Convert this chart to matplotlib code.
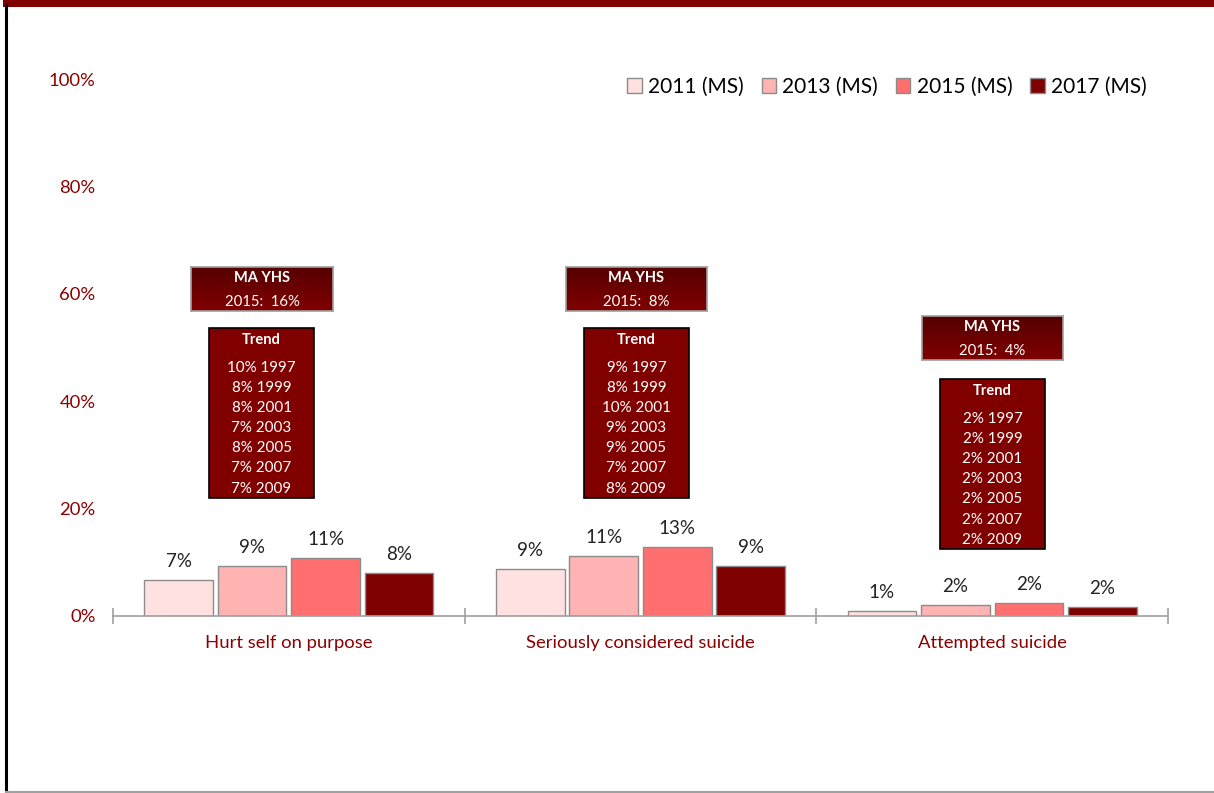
import matplotlib
matplotlib.use("Agg")
import matplotlib.pyplot as plt
import numpy as np
from matplotlib.patches import Rectangle
from matplotlib.lines import Line2D
from matplotlib.colors import LinearSegmentedColormap

plt.rcParams['font.family'] = ['Lato', 'DejaVu Sans']

categories = ["Hurt self on purpose", "Seriously considered suicide", "Attempted suicide"]
series = ["2011 (MS)", "2013 (MS)", "2015 (MS)", "2017 (MS)"]
v2011 = [6.7, 8.8, 0.9]
v2013 = [9.3, 11.2, 2.0]
v2015 = [10.8, 12.8, 2.4]
v2017 = [8.0, 9.3, 1.7]
labels2011 = ["7%", "9%", "1%"]
labels2013 = ["9%", "11%", "2%"]
labels2015 = ["11%", "13%", "2%"]
labels2017 = ["8%", "9%", "2%"]
ma_yhs = ["2015:  16%", "2015:  8%", "2015:  4%"]
trend_years = ["1997", "1999", "2001", "2003", "2005", "2007", "2009"]
trend_hurt = ["10%", "8%", "8%", "7%", "8%", "7%", "7%"]
trend_consider = ["9%", "8%", "10%", "9%", "9%", "7%", "8%"]
trend_attempt = ["2%", "2%", "2%", "2%", "2%", "2%", "2%"]
yticks = [0, 20, 40, 60, 80, 100]
ytick_labels = ["0%", "20%", "40%", "60%", "80%", "100%"]

colors = ["#FFE1E1", "#FFB3B3", "#FF6F6F", "#7F0000"]
dark = "#8B0000"

W, H = 1214, 793
fig = plt.figure(figsize=(W / 100, H / 100), dpi=100)

def fx(px):
    return px / W

def fy(py):
    return 1 - py / H

# frame decorations
fig.add_artist(Rectangle((fx(3), fy(7)), 1 - fx(3), 7 / H, color="#800000", lw=0, transform=fig.transFigure))
fig.add_artist(Line2D([fx(6), fx(6)], [fy(793), fy(5)], color="black", lw=2.2, transform=fig.transFigure))
fig.add_artist(Line2D([fx(6), 1], [fy(791.5), fy(791.5)], color="#A0A0A0", lw=1.5, transform=fig.transFigure))

ax = fig.add_axes([fx(113), fy(616), fx(1168) - fx(113), (616 - 79) / H])
x = np.arange(len(categories))
w = 0.195
step = 0.209
all_vals = [v2011, v2013, v2015, v2017]
all_labels = [labels2011, labels2013, labels2015, labels2017]
for i, (vals, labs, c, name) in enumerate(zip(all_vals, all_labels, colors, series)):
    bars = ax.bar(x + (i - 1.5) * step, vals, w, color=c, edgecolor="#8C8C8C", lw=1.0, label=name)
    for b, lab in zip(bars, labs):
        ax.text(b.get_x() + b.get_width() / 2, b.get_height() + 1.9, lab, ha="center", va="bottom",
                fontsize=13.5, color="#222222")

ax.set_xlim(-0.5, 2.5)
ax.set_ylim(0, 100)
ax.set_yticks(yticks)
ax.set_yticklabels(ytick_labels, color=dark, fontsize=13.3)
ax.tick_params(axis="y", length=0, pad=12.5)
ax.set_xticks(x)
ax.set_xticklabels(categories, color=dark, fontsize=13.3)
ax.tick_params(axis="x", length=0, pad=14)
ax.set_xticks([-0.5, 0.5, 1.5, 2.5], minor=True)
ax.tick_params(axis="x", which="minor", length=12, direction="inout", color="#A0A0A0", width=1.2)
for s in ["top", "right", "left"]:
    ax.spines[s].set_visible(False)
ax.spines["bottom"].set_color("#A0A0A0")
ax.spines["bottom"].set_linewidth(1.2)

# annotation boxes (figure pixel coordinates)
grad = np.linspace(0, 1, 50).reshape(-1, 1)
cmap = LinearSegmentedColormap.from_list("g", ["#560000", "#800000"])

def ma_box(x0, y0, x1, y1, value):
    bax = fig.add_axes([fx(x0), fy(y1), fx(x1) - fx(x0), (y1 - y0) / H])
    bax.imshow(grad, aspect="auto", cmap=cmap, extent=[0, 1, 0, 1], origin="upper")
    bax.set_xticks([]); bax.set_yticks([])
    for s in bax.spines.values():
        s.set_color("#A0A0A0"); s.set_linewidth(1.2)
    cx = (x0 + x1) / 2
    fig.text(fx(cx), fy(y0 + 11), "MA YHS", ha="center", va="center", color="white",
             fontsize=10.5, fontweight="bold")
    fig.text(fx(cx), fy(y0 + 35), value, ha="center", va="center", color="white", fontsize=10.7)

def trend_box(x0, y0, x1, y1, pcts):
    fig.add_artist(Rectangle((fx(x0), fy(y1)), fx(x1) - fx(x0), (y1 - y0) / H, facecolor="#800000",
                             edgecolor="black", lw=1.2, transform=fig.transFigure))
    cx = (x0 + x1) / 2
    fig.text(fx(cx), fy(y0 + 12), "Trend", ha="center", va="center", color="white",
             fontsize=10.5, fontweight="bold")
    for k, (p, yr) in enumerate(zip(pcts, trend_years)):
        fig.text(fx(cx), fy(y0 + 40 + 20.1 * k), f"{p} {yr}", ha="center", va="center",
                 color="white", fontsize=10.9)

ma_box(191, 267, 333, 311, ma_yhs[0])
trend_box(209, 328, 314, 498, trend_hurt)
ma_box(566, 267, 707, 311, ma_yhs[1])
trend_box(584, 328, 689, 498, trend_consider)
ma_box(922, 316, 1063, 360, ma_yhs[2])
trend_box(940, 379, 1045, 549, trend_attempt)

handles, labs = ax.get_legend_handles_labels()
fig.legend(handles, labs, loc="center right", bbox_to_anchor=(fx(1155), fy(87)), ncol=4, frameon=False,
           fontsize=15, handlelength=0.7, handleheight=0.7, handletextpad=0.3, columnspacing=0.85,
           borderaxespad=0)

fig.savefig("out.png", dpi=100, facecolor="white")
